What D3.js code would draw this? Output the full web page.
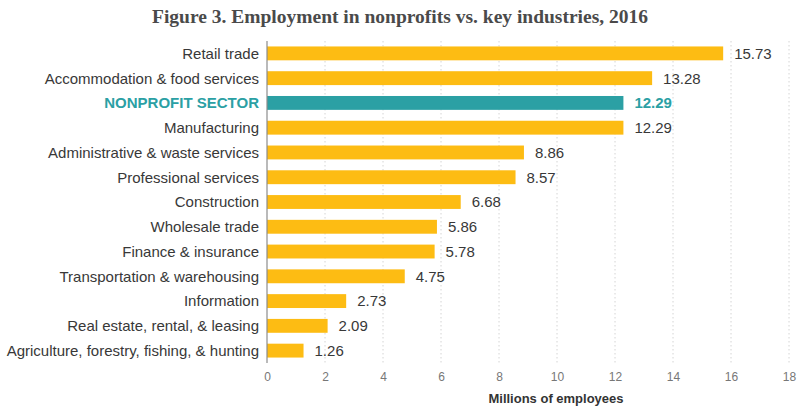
<!DOCTYPE html>
<html>
<head>
<meta charset="utf-8">
<script src="https://cdn.jsdelivr.net/npm/d3@7"></script>
<style>
  body { margin: 0; background: #fff; }
  svg { display: block; }
</style>
</head>
<body>
<div id="chart"></div>
<script>
// industries, top to bottom as shown
const industries = [
  "Retail trade",
  "Accommodation & food services",
  "NONPROFIT SECTOR",
  "Manufacturing",
  "Administrative & waste services",
  "Professional services",
  "Construction",
  "Wholesale trade",
  "Finance & insurance",
  "Transportation & warehousing",
  "Information",
  "Real estate, rental, & leasing",
  "Agriculture, forestry, fishing, & hunting"
];
const employees = [15.73, 13.28, 12.29, 12.29, 8.86, 8.57, 6.68, 5.86, 5.78, 4.75, 2.73, 2.09, 1.26];
const xTicks = [0, 2, 4, 6, 8, 10, 12, 14, 16, 18];
const highlight = "NONPROFIT SECTOR";

const width = 800, height = 412;
const orange = "#fdbc13", teal = "#2ba0a4";
const sans = "'Liberation Sans', Arial, sans-serif";

const svg = d3.select("#chart").append("svg")
    .attr("width", width)
    .attr("height", height);

svg.append("text")
    .attr("x", 400)
    .attr("y", 23)
    .attr("text-anchor", "middle")
    .attr("font-family", "'Liberation Serif', Georgia, serif")
    .attr("font-weight", "bold")
    .attr("font-size", 19.5)
    .attr("fill", "#4a4a4a")
    .text("Figure 3. Employment in nonprofits vs. key industries, 2016");

const x = d3.scaleLinear().domain([0, 18]).range([267, 789]);
const y = d3.scaleBand().domain(industries).range([41, 363])
    .paddingInner(0.44).paddingOuter(0.22);

const data = industries.map((name, i) => ({ name, value: employees[i] }));

// dotted grid
svg.append("g")
    .selectAll("line")
    .data(xTicks.slice(1))
    .join("line")
    .attr("x1", d => x(d)).attr("x2", d => x(d))
    .attr("y1", 41).attr("y2", 363)
    .attr("stroke", "#d4d4d4")
    .attr("stroke-dasharray", "1.5,2.5");

// bars
svg.append("g")
    .selectAll("rect")
    .data(data)
    .join("rect")
    .attr("x", x(0))
    .attr("y", d => y(d.name))
    .attr("width", d => x(d.value) - x(0))
    .attr("height", y.bandwidth())
    .attr("fill", d => d.name === highlight ? teal : orange);

// left axis line
svg.append("line")
    .attr("x1", x(0)).attr("x2", x(0))
    .attr("y1", 41).attr("y2", 363)
    .attr("stroke", "#8c8c8c")
    .attr("stroke-width", 1.2);

// category labels
svg.append("g")
    .selectAll("text")
    .data(data)
    .join("text")
    .attr("x", 259)
    .attr("y", d => y(d.name) + y.bandwidth() / 2)
    .attr("dy", "0.36em")
    .attr("text-anchor", "end")
    .attr("font-family", sans)
    .attr("font-size", 15)
    .attr("font-weight", d => d.name === highlight ? "bold" : "normal")
    .attr("fill", d => d.name === highlight ? teal : "#383838")
    .text(d => d.name);

// value labels
svg.append("g")
    .selectAll("text")
    .data(data)
    .join("text")
    .attr("x", d => x(d.value) + 11)
    .attr("y", d => y(d.name) + y.bandwidth() / 2)
    .attr("dy", "0.36em")
    .attr("font-family", sans)
    .attr("font-size", 15)
    .attr("font-weight", d => d.name === highlight ? "bold" : "normal")
    .attr("fill", d => d.name === highlight ? teal : "#383838")
    .text(d => d.value.toFixed(2));

// x axis
const xAxis = svg.append("g")
    .attr("transform", "translate(0,363)")
    .call(d3.axisBottom(x).tickValues(xTicks).tickSize(0).tickPadding(9));
xAxis.select(".domain").remove();
xAxis.selectAll("text")
    .attr("font-family", sans)
    .attr("font-size", 12)
    .attr("fill", "#777");

svg.append("text")
    .attr("x", 556)
    .attr("y", 403)
    .attr("text-anchor", "middle")
    .attr("font-family", sans)
    .attr("font-weight", "bold")
    .attr("font-size", 13)
    .attr("fill", "#333")
    .text("Millions of employees");
</script>
</body>
</html>
